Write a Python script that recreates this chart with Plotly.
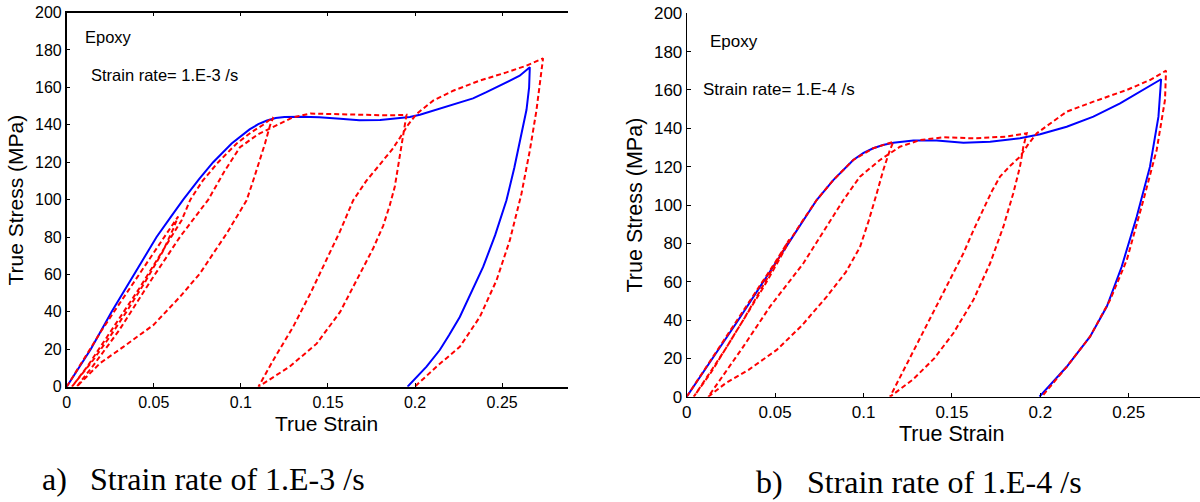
import plotly.graph_objects as go

W, H = 1200, 502

# ---------------- data: (a) strain rate 1.E-3 /s ----------------
a_mono_strain = [0, 0.0138, 0.0258, 0.0385, 0.0516, 0.0600, 0.0669, 0.0760, 0.0841, 0.0947, 0.100, 0.105, 0.110,
                 0.115, 0.120, 0.125, 0.135, 0.145, 0.157, 0.168, 0.180, 0.190, 0.197, 0.2028, 0.2142, 0.2240,
                 0.2333, 0.2410, 0.2487, 0.2550, 0.2601, 0.2659,
                 0.2655, 0.2640, 0.2611, 0.2570, 0.2525, 0.2460, 0.2391, 0.2320, 0.2257, 0.2195, 0.2142, 0.2066, 0.1957]
a_mono_stress = [0, 20, 40, 60, 80, 91, 100, 111, 120, 130, 134, 137.5, 140.3,
                 142.3, 143.6, 144.2, 144.3, 144, 143.2, 142.4, 142.5, 143.4, 144.2, 145.4, 148.5, 151.2,
                 154.1, 157.4, 160.9, 163.6, 166.2, 170.7,
                 160, 148, 135.1, 117, 99.6, 81, 64, 49.5, 37.3, 27.5, 19.6, 10.7, 0]

a_cyc_strain = [0, 0.01, 0.02, 0.03, 0.04, 0.05, 0.058, 0.064,
                0.061, 0.055, 0.045, 0.035, 0.025, 0.015, 0.003,
                0.012, 0.022, 0.032, 0.042, 0.052, 0.060, 0.066, 0.071, 0.078, 0.087, 0.0976, 0.106, 0.1128, 0.1186,
                0.1167, 0.1138, 0.1109, 0.1071, 0.1033, 0.0975, 0.0918, 0.0840, 0.0765, 0.065, 0.0497, 0.0325, 0.0191, 0.0057,
                0.015, 0.03, 0.0478, 0.065, 0.0813, 0.0905, 0.0995, 0.11, 0.1186, 0.130, 0.14, 0.155, 0.17, 0.185, 0.1951,
                0.1932, 0.1913, 0.1884, 0.1855, 0.1817, 0.176, 0.1683, 0.157, 0.1435, 0.128, 0.1101,
                0.1186, 0.130, 0.14, 0.1492, 0.1569, 0.1645, 0.172, 0.180, 0.187, 0.1913, 0.1960, 0.2009, 0.2104,
                0.2219, 0.2372, 0.2525, 0.264, 0.2735,
                0.2716, 0.2697, 0.2659, 0.2611, 0.2544, 0.2468, 0.2372, 0.2257, 0.2123, 0.1999]
a_cyc_stress = [0, 15, 30, 44, 58, 72, 83, 91,
                84, 72, 56, 41, 27, 14, 0,
                11, 25, 39, 53, 68, 80, 89, 100, 110, 120, 130, 136, 140, 144,
                139.5, 129.8, 120.9, 110.2, 99.6, 90.5, 81.8, 71, 60.5, 48, 32.9, 21.3, 12.5, 0,
                11, 30, 56, 80, 100, 115, 128, 135, 139, 144, 146, 145.6, 145, 145, 145.3,
                135.1, 122.7, 107, 97, 86, 74, 60, 40, 23, 10.7, 0,
                14.2, 32, 50, 68, 83, 99.6, 110, 119, 127, 133, 140, 145.8, 152.9,
                158.2, 163.6, 168, 171.6, 175.5,
                161.8, 147.6, 126.2, 103.1, 78.2, 56.9, 37.3, 21.3, 10.7, 0]

# ---------------- data: (b) strain rate 1.E-4 /s ----------------
b_mono_strain = [0, 0.0292, 0.0575, 0.0735, 0.0829, 0.0942, 0.1000, 0.1055, 0.1110, 0.1169, 0.1282, 0.1414, 0.1565,
                 0.1716, 0.1885, 0.1999, 0.2149, 0.23, 0.2451, 0.2564, 0.2683,
                 0.2668, 0.262, 0.2545, 0.246, 0.2376, 0.2281, 0.2149, 0.1995]
b_mono_stress = [0, 40, 80, 102.6, 113, 123.5, 127.2, 129.6, 131.3, 132.5, 133.6, 133.6, 132.5,
                 133, 134.8, 136.9, 140.8, 146.1, 153, 159.1, 165.6,
                 146.1, 120, 93.9, 67.8, 47, 31.3, 15.6, 0]

b_cyc_strain = [0, 0.01, 0.02, 0.03, 0.04, 0.05, 0.058,
                0.052, 0.042, 0.032, 0.022, 0.012, 0.004,
                0.014, 0.024, 0.034, 0.044, 0.052, 0.058, 0.065, 0.0735, 0.0829, 0.0942, 0.1055, 0.1169,
                0.1149, 0.1112, 0.1075, 0.1030, 0.0980, 0.0900, 0.0792, 0.0650, 0.0509, 0.0350, 0.0220, 0.0122,
                0.032, 0.0471, 0.066, 0.0886, 0.098, 0.1093, 0.1206, 0.132, 0.1451, 0.1621, 0.181, 0.1923,
                0.1904, 0.1885, 0.1847, 0.1791, 0.1716, 0.1621, 0.1508, 0.14, 0.128, 0.115,
                0.125, 0.135, 0.1433, 0.1500, 0.1565, 0.1625, 0.1678, 0.1725, 0.1772, 0.1830, 0.1885, 0.193, 0.198,
                0.2055, 0.2149, 0.23, 0.2489, 0.262, 0.2711,
                0.2705, 0.2658, 0.2583, 0.2489, 0.2394, 0.2281, 0.2149, 0.2008]
b_cyc_stress = [0, 14, 28, 42, 56, 70, 82,
                72, 56, 40, 25, 11, 0,
                13, 28, 43, 58, 71, 81, 91, 102.6, 113, 123.5, 129.6, 133,
                128.6, 118.3, 106.1, 92, 78, 65, 52.2, 37, 24.4, 14, 7, 0,
                26.1, 47, 69.6, 102.6, 114.8, 123.5, 130.4, 133.9, 135.3, 134.8, 135.7, 137.4,
                130.4, 120, 106.1, 88.7, 69.6, 50.4, 33.1, 20, 9, 0,
                18, 36, 50.4, 62.5, 74.8, 87.5, 98, 107, 114.8, 120.5, 125.2, 131.5, 137.4,
                142.6, 148.7, 153.9, 160, 165.2, 170.1,
                154.8, 128.7, 102.6, 71.3, 50.4, 31.3, 15.6, 0]

x_tickvals = [0, 0.05, 0.1, 0.15, 0.2, 0.25]
x_ticktext = ["0", "0.05", "0.1", "0.15", "0.2", "0.25"]
y_tickvals = list(range(0, 201, 20))

panel_a_notes = ["Epoxy", "Strain rate= 1.E-3 /s"]
panel_b_notes = ["Epoxy", "Strain rate= 1.E-4 /s"]
captions = [("a)", "Strain rate of 1.E-3 /s"), ("b)", "Strain rate of 1.E-4 /s")]
x_title = "True Strain"
y_title = "True Stress (MPa)"

# ---------------- layout helpers (page pixel -> paper) ----------------
def px(x):
    return x / W

def py(y):
    return 1 - y / H

SANS = "Liberation Sans, Arial, sans-serif"
SERIF = "Liberation Serif, Times New Roman, serif"
BLUE = "#0000ff"
RED = "#ff0000"

fig = go.Figure()
fig.add_trace(go.Scatter(x=a_mono_strain, y=a_mono_stress, mode="lines",
                         line=dict(color=BLUE, width=2), xaxis="x", yaxis="y", showlegend=False))
fig.add_trace(go.Scatter(x=a_cyc_strain, y=a_cyc_stress, mode="lines",
                         line=dict(color=RED, width=2, dash="5px,3px"), xaxis="x", yaxis="y", showlegend=False))
fig.add_trace(go.Scatter(x=b_mono_strain, y=b_mono_stress, mode="lines",
                         line=dict(color=BLUE, width=2), xaxis="x2", yaxis="y2", showlegend=False))
fig.add_trace(go.Scatter(x=b_cyc_strain, y=b_cyc_stress, mode="lines",
                         line=dict(color=RED, width=2, dash="5px,3px"), xaxis="x2", yaxis="y2", showlegend=False))

common_x = dict(tickmode="array", tickvals=x_tickvals, ticktext=x_ticktext, showgrid=False,
                zeroline=False, showline=True, linecolor="black", ticks="inside", ticklen=4,
                tickcolor="black", color="black", automargin=False, ticklabeloverflow="allow")
common_y = dict(tickmode="array", tickvals=y_tickvals, showgrid=False, zeroline=False,
                showline=True, linecolor="black", ticks="inside", ticklen=4, tickcolor="black",
                color="black", automargin=False, ticklabeloverflow="allow")

fig.update_layout(
    template="none",
    width=W, height=H, margin=dict(l=0, r=0, t=0, b=0, pad=0, autoexpand=False),
    paper_bgcolor="white", plot_bgcolor="white",
    xaxis=dict(common_x, domain=[px(66.7), px(568.3)], range=[0, 0.288], anchor="y",
               mirror="ticks", linewidth=1.5, tickfont=dict(family=SANS, size=16, color="black")),
    yaxis=dict(common_y, domain=[py(386.7), py(12.5)], range=[0, 200], anchor="x",
               linewidth=1.5, tickfont=dict(family=SANS, size=16, color="black")),
    xaxis2=dict(common_x, domain=[px(686.7), 1.0], range=[0, 0.2903], anchor="y2",
                linewidth=1, tickfont=dict(family=SANS, size=17, color="black")),
    yaxis2=dict(common_y, domain=[py(396.7), py(13.3)], range=[0, 200], anchor="x2",
                linewidth=1, tickfont=dict(family=SANS, size=17, color="black")),
)

ann = []
def note(text, x, y, size, family=SANS, xanchor="left", angle=0):
    ann.append(dict(text=text, x=px(x), y=py(y), xref="paper", yref="paper", showarrow=False,
                    xanchor=xanchor, yanchor="middle", textangle=angle,
                    font=dict(family=family, size=size, color="black")))

# panel (a) text
note(panel_a_notes[0], 83.3, 37.2, 16.5)
note(panel_a_notes[1], 89, 74.7, 16.5)
note(x_title, 326.5, 423, 21, xanchor="center")
note(y_title, 14.5, 200, 21, xanchor="center", angle=-90)
note(captions[0][0], 40, 479, 32, family=SERIF)
note(captions[0][1], 87.5, 479, 32, family=SERIF)

# panel (b) text
note(panel_b_notes[0], 707.7, 41.3, 17)
note(panel_b_notes[1], 700.7, 89.2, 17)
note(x_title, 952, 434, 21.5, xanchor="center")
note(y_title, 634.5, 205, 21.5, xanchor="center", angle=-90)
note(captions[1][0], 754, 482, 32, family=SERIF)
note(captions[1][1], 805, 482, 32, family=SERIF)

fig.update_layout(annotations=ann)
# the page body would otherwise keep the browser's default 8px margin
fig.write_html("out.html", config={"displayModeBar": False},
               post_script="document.body.style.margin='0px';")
